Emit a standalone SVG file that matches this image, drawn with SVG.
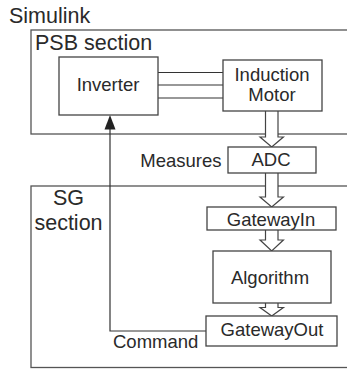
<svg xmlns="http://www.w3.org/2000/svg" width="347" height="369" viewBox="0 0 347 369">
<style>
text{font-family:"Liberation Sans",Arial,sans-serif;fill:#2a2a2a}
.lbl{font-size:18.5px;text-anchor:middle}
.sec{font-size:21.5px}
.box{fill:#fff;stroke:#444;stroke-width:1.3}
.frame{fill:none;stroke:#555;stroke-width:1.3}
.ln{fill:none;stroke:#333;stroke-width:1.2}
.hol{fill:#fff;stroke:#444;stroke-width:1.2;stroke-linejoin:miter}
</style>
<rect width="347" height="369" fill="#fff"/>
<text class="sec" x="9" y="23">Simulink</text>
<g id="psb">
<rect class="frame" x="31" y="30" width="330" height="104"/>
<text class="sec" x="35" y="50">PSB section</text>
</g>
<g id="sg">
<rect class="frame" x="31" y="186" width="330" height="181.5"/>
<text class="sec" x="68.5" y="205" text-anchor="middle">SG</text>
<text class="sec" x="68.5" y="230" text-anchor="middle">section</text>
</g>
<g id="connectors">
<line class="ln" x1="158" y1="72.5" x2="223" y2="72.5"/>
<line class="ln" x1="158" y1="85" x2="223" y2="85"/>
<line class="ln" x1="158" y1="98" x2="223" y2="98"/>
<polyline class="ln" points="206,331 110,331 110,128"/>
<polygon points="110,115 104.5,129.5 115.5,129.5" fill="#222"/>
<path class="hol" d="M265.5,111 V137 H260 L271.7,147 L283.4,137 H278 V111"/>
<path class="hol" d="M265.5,173 V197 H260 L271.7,207 L283.4,197 H278 V173"/>
<path class="hol" d="M265.5,230 V240 H260 L271.7,251 L283.4,240 H278 V230"/>
<path class="hol" d="M265.5,303 V307.5 H260 L271.7,316 L283.4,307.5 H278 V303"/>
</g>
<g id="inverter">
<rect class="box" x="59" y="57" width="99" height="58"/>
<text class="lbl" x="108" y="91">Inverter</text>
</g>
<g id="motor">
<rect class="box" x="223" y="60" width="99" height="51"/>
<text class="lbl" x="272" y="81">Induction</text>
<text class="lbl" x="272" y="101">Motor</text>
</g>
<g id="adc">
<rect class="box" x="228" y="147" width="88" height="26"/>
<text class="lbl" x="271" y="166">ADC</text>
</g>
<text class="lbl" x="221.5" y="167" text-anchor="end" style="text-anchor:end">Measures</text>
<g id="gatewayin">
<rect class="box" x="207" y="207" width="129" height="23"/>
<text class="lbl" x="271" y="226">GatewayIn</text>
</g>
<g id="algorithm">
<rect class="box" x="213" y="251" width="118" height="52"/>
<text class="lbl" x="270" y="284">Algorithm</text>
</g>
<g id="gatewayout">
<rect class="box" x="206" y="316" width="131" height="30"/>
<text class="lbl" x="272" y="336">GatewayOut</text>
</g>
<text class="lbl" x="113" y="348" style="text-anchor:start">Command</text>
</svg>
